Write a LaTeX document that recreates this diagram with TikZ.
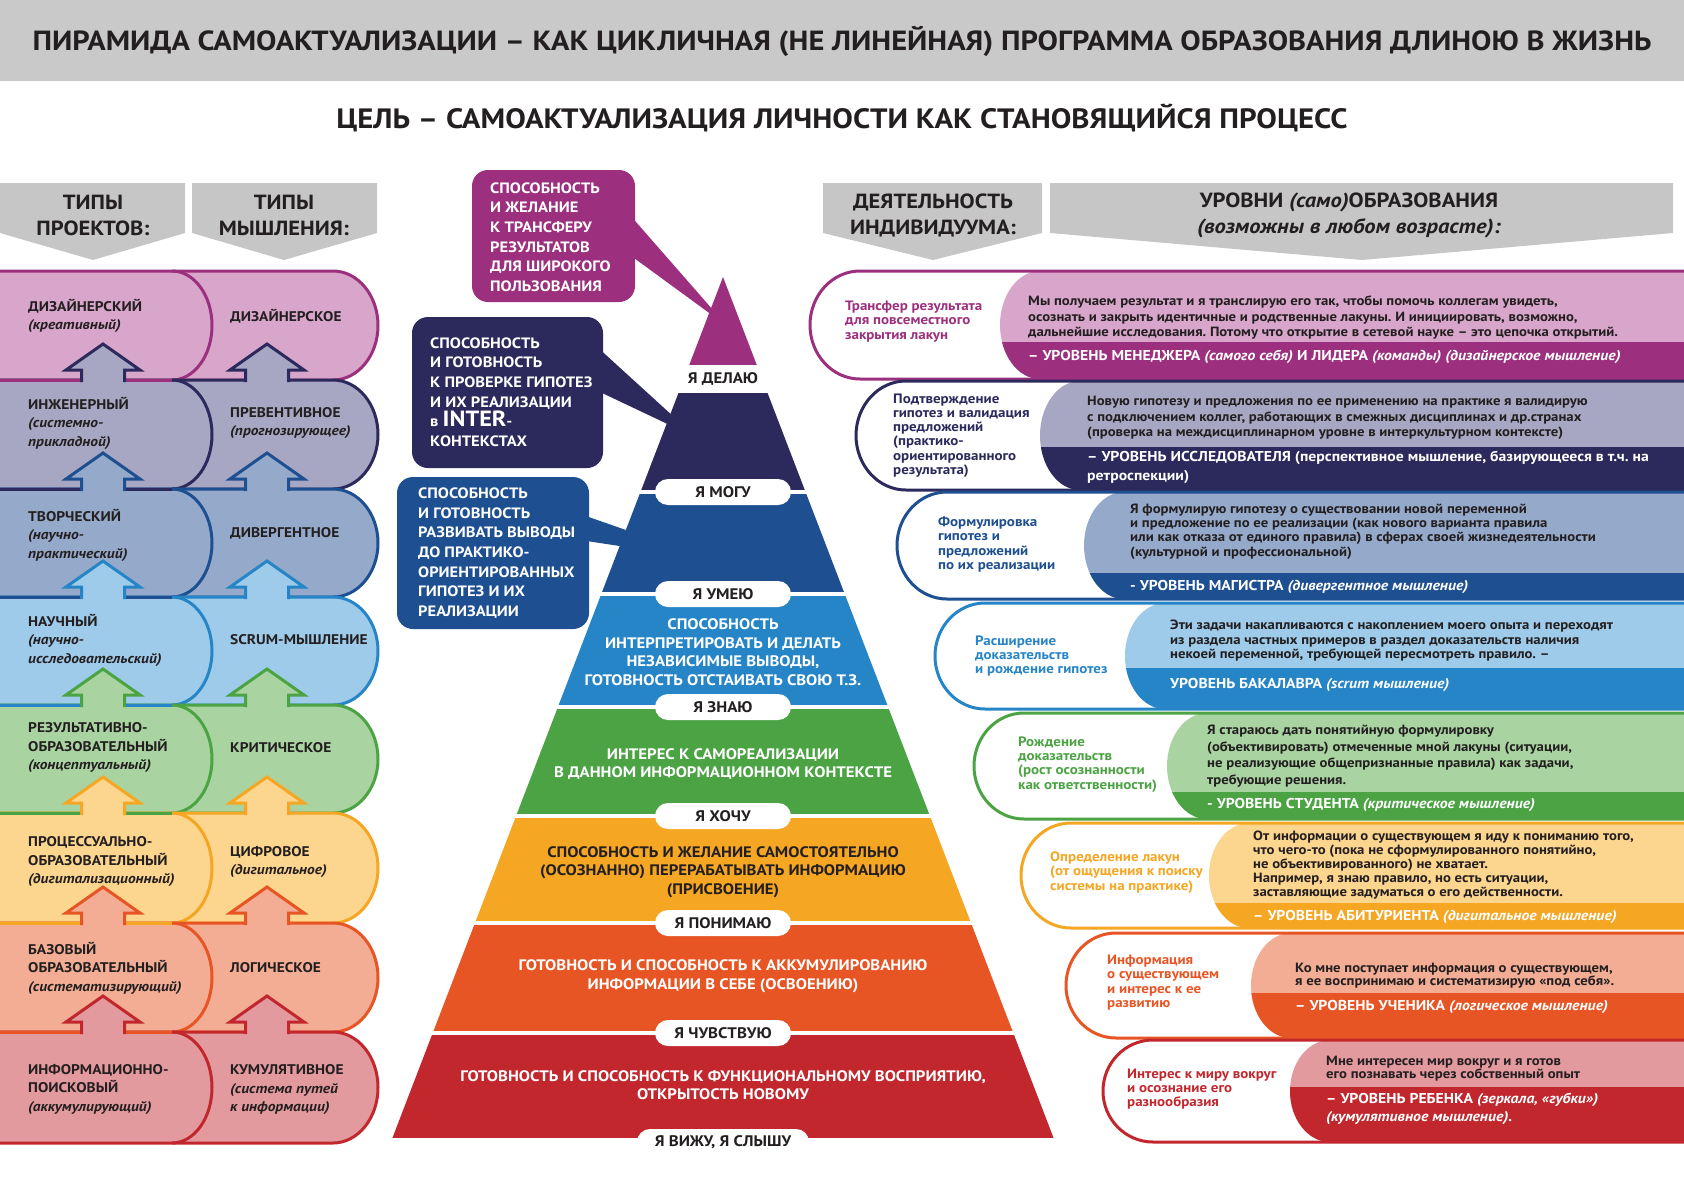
\documentclass[tikz,border=0pt]{standalone}
\usepackage{fontspec}
\setmainfont[FakeStretch=1.1]{PT Sans}
\frenchspacing
\begin{document}
\begin{tikzpicture}[x=1pt,y=-1pt,
    rowline/.style={line width=3pt},
    headtext/.style={align=center,inner sep=0pt,text=ink,font=\fontsize{20.5}{26}\selectfont\bfseries},
    typetext/.style={anchor=west,align=left,inner sep=0pt,text=ink,font=\fontsize{14}{18.5}\selectfont\bfseries},
    bandtext/.style={align=center,inner sep=0pt,text=white,font=\fontsize{15.2}{18.5}\selectfont\bfseries},
    stagepill/.style={fill=white,rounded corners=13pt,minimum width=136pt,minimum height=26pt,inner sep=0pt,text=ink,font=\fontsize{15.3}{18}\selectfont\bfseries},
    calltext/.style={anchor=west,align=left,inner sep=0pt,text=white,font=\fontsize{15}{19.7}\selectfont\bfseries},
    acttext/.style={anchor=west,align=left,inner sep=0pt,font=\fontsize{13.6}{14.2}\selectfont\bfseries},
    bodytext/.style={anchor=west,align=left,inner sep=0pt,text=ink,font=\fontsize{13.4}{15.5}\selectfont\bfseries},
    leveltext/.style={anchor=west,align=left,inner sep=0pt,text=white,font=\fontsize{14.3}{18.5}\selectfont\bfseries}]
    \useasboundingbox (0,0) rectangle (1684,1191);

    % Changing colors
    \definecolor{ink}{HTML}{231F20}%
    \definecolor{bargray}{HTML}{C9C9C9}%
    \definecolor{hdrgray}{HTML}{C6C6C6}%
    \definecolor{c1}{HTML}{9C2F7E}\definecolor{l1}{HTML}{D8A6CA}%
    \definecolor{c2}{HTML}{2C2A5C}\definecolor{l2}{HTML}{A8A7C3}%
    \definecolor{c3}{HTML}{1D4F91}\definecolor{l3}{HTML}{95AACB}%
    \definecolor{c4}{HTML}{2685C6}\definecolor{l4}{HTML}{9ECBEA}%
    \definecolor{c5}{HTML}{4BA343}\definecolor{l5}{HTML}{A9D4A1}%
    \definecolor{c6}{HTML}{F5A623}\definecolor{l6}{HTML}{FCD58F}%
    \definecolor{c7}{HTML}{E85524}\definecolor{l7}{HTML}{F2AD94}%
    \definecolor{c8}{HTML}{C1272D}\definecolor{l8}{HTML}{E39A9E}%

    % Drawing title bar
    \fill[bargray] (0,0) rectangle (1684,81);%
    \node[inner sep=0pt,text=ink,font=\fontsize{27.7}{32}\selectfont\bfseries] (title) at (842,41) {ПИРАМИДА САМОАКТУАЛИЗАЦИИ – КАК ЦИКЛИЧНАЯ (НЕ ЛИНЕЙНАЯ) ПРОГРАММА ОБРАЗОВАНИЯ ДЛИНОЮ В ЖИЗНЬ};%
    \node[inner sep=0pt,text=ink,font=\fontsize{28}{32}\selectfont\bfseries] (goal) at (842,118) {ЦЕЛЬ – САМОАКТУАЛИЗАЦИЯ ЛИЧНОСТИ КАК СТАНОВЯЩИЙСЯ ПРОЦЕСС};%

    % Drawing column headers
    \fill[hdrgray] (0,183) -- (185,183) -- (185,233) -- (93,260) -- (0,233) -- cycle;%
    \fill[hdrgray] (192,183) -- (377,183) -- (377,233) -- (284,260) -- (192,233) -- cycle;%
    \fill[hdrgray] (823,183) -- (1042,183) -- (1042,233) -- (933,260) -- (823,233) -- cycle;%
    \fill[hdrgray] (1050,183) -- (1673,183) -- (1673,233) -- (1362,260) -- (1050,233) -- cycle;%
    \node[headtext] (projhead) at (93,215) {ТИПЫ\\ПРОЕКТОВ:};%
    \node[headtext] (thinkhead) at (284,215) {ТИПЫ\\МЫШЛЕНИЯ:};%
    \node[headtext] (acthead) at (933,215) {ДЕЯТЕЛЬНОСТЬ\\ИНДИВИДУУМА:};%
    \node[headtext] (levhead) at (1349,215) {УРОВНИ \textit{(само)}ОБРАЗОВАНИЯ\\\textit{(возможны в любом возрасте):}};%

    % Drawing left rows
    \filldraw[fill=l1,draw=c1,rowline] (-5,271) -- (333,271) arc[start angle=90,end angle=-90,x radius=45pt,y radius=54.5pt] -- (-5,380) -- cycle;%
    \draw[c1,rowline] (172,271) arc[start angle=90,end angle=-90,x radius=40pt,y radius=54.5pt];%
    \filldraw[fill=l2,draw=c2,rowline] (-5,380) -- (333,380) arc[start angle=90,end angle=-90,x radius=45pt,y radius=54.5pt] -- (-5,489) -- cycle;%
    \draw[c2,rowline] (172,380) arc[start angle=90,end angle=-90,x radius=40pt,y radius=54.5pt];%
    \filldraw[fill=l3,draw=c3,rowline] (-5,489) -- (333,489) arc[start angle=90,end angle=-90,x radius=45pt,y radius=54pt] -- (-5,597) -- cycle;%
    \draw[c3,rowline] (172,489) arc[start angle=90,end angle=-90,x radius=40pt,y radius=54pt];%
    \filldraw[fill=l4,draw=c4,rowline] (-5,597) -- (333,597) arc[start angle=90,end angle=-90,x radius=45pt,y radius=54pt] -- (-5,705) -- cycle;%
    \draw[c4,rowline] (172,597) arc[start angle=90,end angle=-90,x radius=40pt,y radius=54pt];%
    \filldraw[fill=l5,draw=c5,rowline] (-5,705) -- (333,705) arc[start angle=90,end angle=-90,x radius=45pt,y radius=54pt] -- (-5,813) -- cycle;%
    \draw[c5,rowline] (172,705) arc[start angle=90,end angle=-90,x radius=40pt,y radius=54pt];%
    \filldraw[fill=l6,draw=c6,rowline] (-5,813) -- (333,813) arc[start angle=90,end angle=-90,x radius=45pt,y radius=55pt] -- (-5,923) -- cycle;%
    \draw[c6,rowline] (172,813) arc[start angle=90,end angle=-90,x radius=40pt,y radius=55pt];%
    \filldraw[fill=l7,draw=c7,rowline] (-5,923) -- (333,923) arc[start angle=90,end angle=-90,x radius=45pt,y radius=54.5pt] -- (-5,1032) -- cycle;%
    \draw[c7,rowline] (172,923) arc[start angle=90,end angle=-90,x radius=40pt,y radius=54.5pt];%
    \filldraw[fill=l8,draw=c8,rowline] (-5,1032) -- (333,1032) arc[start angle=90,end angle=-90,x radius=45pt,y radius=55.5pt] -- (-5,1143) -- cycle;%
    \draw[c8,rowline] (172,1032) arc[start angle=90,end angle=-90,x radius=40pt,y radius=55.5pt];%

    % Lower edges of the left shapes
    \draw[c1,rowline] (-5,380) -- (172,380);%
    \draw[c2,rowline] (-5,489) -- (172,489);%
    \draw[c3,rowline] (-5,597) -- (172,597);%
    \draw[c4,rowline] (-5,705) -- (172,705);%
    \draw[c5,rowline] (-5,813) -- (172,813);%
    \draw[c6,rowline] (-5,923) -- (172,923);%
    \draw[c7,rowline] (-5,1032) -- (172,1032);%

    % Drawing arrows between rows
    \filldraw[fill=l2,draw=c2,rowline] (81.5,382) -- ++(0,-12) -- ++(-15.5,0) -- ++(37,-26) -- ++(37,26) -- ++(-15.5,0) -- ++(0,12);%
    \filldraw[fill=l2,draw=c2,rowline] (245.5,382) -- ++(0,-12) -- ++(-15.5,0) -- ++(37,-26) -- ++(37,26) -- ++(-15.5,0) -- ++(0,12);%
    \filldraw[fill=l3,draw=c3,rowline] (81.5,491) -- ++(0,-12) -- ++(-15.5,0) -- ++(37,-26) -- ++(37,26) -- ++(-15.5,0) -- ++(0,12);%
    \filldraw[fill=l3,draw=c3,rowline] (245.5,491) -- ++(0,-12) -- ++(-15.5,0) -- ++(37,-26) -- ++(37,26) -- ++(-15.5,0) -- ++(0,12);%
    \filldraw[fill=l4,draw=c4,rowline] (81.5,599) -- ++(0,-12) -- ++(-15.5,0) -- ++(37,-26) -- ++(37,26) -- ++(-15.5,0) -- ++(0,12);%
    \filldraw[fill=l4,draw=c4,rowline] (245.5,599) -- ++(0,-12) -- ++(-15.5,0) -- ++(37,-26) -- ++(37,26) -- ++(-15.5,0) -- ++(0,12);%
    \filldraw[fill=l5,draw=c5,rowline] (81.5,707) -- ++(0,-12) -- ++(-15.5,0) -- ++(37,-26) -- ++(37,26) -- ++(-15.5,0) -- ++(0,12);%
    \filldraw[fill=l5,draw=c5,rowline] (245.5,707) -- ++(0,-12) -- ++(-15.5,0) -- ++(37,-26) -- ++(37,26) -- ++(-15.5,0) -- ++(0,12);%
    \filldraw[fill=l6,draw=c6,rowline] (81.5,815) -- ++(0,-12) -- ++(-15.5,0) -- ++(37,-26) -- ++(37,26) -- ++(-15.5,0) -- ++(0,12);%
    \filldraw[fill=l6,draw=c6,rowline] (245.5,815) -- ++(0,-12) -- ++(-15.5,0) -- ++(37,-26) -- ++(37,26) -- ++(-15.5,0) -- ++(0,12);%
    \filldraw[fill=l7,draw=c7,rowline] (81.5,925) -- ++(0,-12) -- ++(-15.5,0) -- ++(37,-26) -- ++(37,26) -- ++(-15.5,0) -- ++(0,12);%
    \filldraw[fill=l7,draw=c7,rowline] (245.5,925) -- ++(0,-12) -- ++(-15.5,0) -- ++(37,-26) -- ++(37,26) -- ++(-15.5,0) -- ++(0,12);%
    \filldraw[fill=l8,draw=c8,rowline] (81.5,1034) -- ++(0,-12) -- ++(-15.5,0) -- ++(37,-26) -- ++(37,26) -- ++(-15.5,0) -- ++(0,12);%
    \filldraw[fill=l8,draw=c8,rowline] (245.5,1034) -- ++(0,-12) -- ++(-15.5,0) -- ++(37,-26) -- ++(37,26) -- ++(-15.5,0) -- ++(0,12);%

    % Marking project and thinking types
    \node[typetext] (tp1) at (28,316) {ДИЗАЙНЕРСКИЙ\\\textit{(креативный)}};%
    \node[typetext] (tt1) at (230,316) {ДИЗАЙНЕРСКОЕ};%
    \node[typetext] (tp2) at (28,423) {ИНЖЕНЕРНЫЙ\\\textit{(системно-}\\\textit{прикладной)}};%
    \node[typetext] (tt2) at (230,423) {ПРЕВЕНТИВНОЕ\\\textit{(прогнозирующее)}};%
    \node[typetext] (tp3) at (28,535) {ТВОРЧЕСКИЙ\\\textit{(научно-}\\\textit{практический)}};%
    \node[typetext] (tt3) at (230,533) {ДИВЕРГЕНТНОЕ};%
    \node[typetext] (tp4) at (28,640) {НАУЧНЫЙ\\\textit{(научно-}\\\textit{исследовательский)}};%
    \node[typetext] (tt4) at (230,640) {SCRUM-МЫШЛЕНИЕ};%
    \node[typetext] (tp5) at (28,748) {РЕЗУЛЬТАТИВНО-\\ОБРАЗОВАТЕЛЬНЫЙ\\\textit{(концептуальный)}};%
    \node[typetext] (tt5) at (230,748) {КРИТИЧЕСКОЕ};%
    \node[typetext] (tp6) at (28,862) {ПРОЦЕССУАЛЬНО-\\ОБРАЗОВАТЕЛЬНЫЙ\\\textit{(дигитализационный)}};%
    \node[typetext] (tt6) at (230,862) {ЦИФРОВОЕ\\\textit{(дигитальное)}};%
    \node[typetext] (tp7) at (28,968) {БАЗОВЫЙ\\ОБРАЗОВАТЕЛЬНЫЙ\\\textit{(систематизирующий)}};%
    \node[typetext] (tt7) at (230,968) {ЛОГИЧЕСКОЕ};%
    \node[typetext] (tp8) at (28,1089) {ИНФОРМАЦИОННО-\\ПОИСКОВЫЙ\\\textit{(аккумулирующий)}};%
    \node[typetext] (tt8) at (230,1090) {КУМУЛЯТИВНОЕ\\\textit{(система путей}\\\textit{к информации)}};%

    % Drawing pyramid bands
    \begin{scope}
        \clip (723,277) -- (392.4,1138) -- (1053.6,1138) -- cycle;%
        \fill[c1] (380,270) rectangle (1070,365);%
        \fill[c2] (380,393) rectangle (1070,490);%
        \fill[c3] (380,494) rectangle (1070,592);%
        \fill[c4] (380,596) rectangle (1070,705);%
        \fill[c5] (380,709) rectangle (1070,814);%
        \fill[c6] (380,818) rectangle (1070,921);%
        \fill[c7] (380,925) rectangle (1070,1031);%
        \fill[c8] (380,1035) rectangle (1070,1138);%
    \end{scope}

    % Drawing callouts
    \fill[c1,rounded corners=16pt] (472,170) rectangle (635,302);%
    \fill[c1] (622,206) -- (727,326) -- (634,258) -- cycle;%
    \node[calltext] (call1) at (490,237) {СПОСОБНОСТЬ\\И ЖЕЛАНИЕ\\К ТРАНСФЕРУ\\РЕЗУЛЬТАТОВ\\ДЛЯ ШИРОКОГО\\ПОЛЬЗОВАНИЯ};%
    \fill[c2,rounded corners=16pt] (412,317) rectangle (603,468);%
    \fill[c2] (595,345) -- (697,438) -- (600,392) -- cycle;%
    \node[calltext] (call2) at (430,392) {СПОСОБНОСТЬ\\И ГОТОВНОСТЬ\\К ПРОВЕРКЕ ГИПОТЕЗ\\И ИХ РЕАЛИЗАЦИИ\\в {\fontsize{22}{20}\selectfont INTER}-\\КОНТЕКСТАХ};%
    \fill[c3,rounded corners=16pt] (397,477) rectangle (589,629);%
    \fill[c3] (580,514) -- (712,560) -- (580,540) -- cycle;%
    \node[calltext] (call3) at (418,553) {СПОСОБНОСТЬ\\И ГОТОВНОСТЬ\\РАЗВИВАТЬ ВЫВОДЫ\\ДО ПРАКТИКО-\\ОРИЕНТИРОВАННЫХ\\ГИПОТЕЗ И ИХ\\РЕАЛИЗАЦИИ};%

    % Marking band texts
    \node[bandtext] (band4) at (723,652) {СПОСОБНОСТЬ\\ИНТЕРПРЕТИРОВАТЬ И ДЕЛАТЬ\\НЕЗАВИСИМЫЕ ВЫВОДЫ,\\ГОТОВНОСТЬ ОТСТАИВАТЬ СВОЮ Т.З.};%
    \node[bandtext] (band5) at (723,764) {ИНТЕРЕС К САМОРЕАЛИЗАЦИИ\\В ДАННОМ ИНФОРМАЦИОННОМ КОНТЕКСТЕ};%
    \node[bandtext,text=ink] (band6) at (723,872) {СПОСОБНОСТЬ И ЖЕЛАНИЕ САМОСТОЯТЕЛЬНО\\(ОСОЗНАННО) ПЕРЕРАБАТЫВАТЬ ИНФОРМАЦИЮ\\(ПРИСВОЕНИЕ)};%
    \node[bandtext] (band7) at (723,976) {ГОТОВНОСТЬ И СПОСОБНОСТЬ К АККУМУЛИРОВАНИЮ\\ИНФОРМАЦИИ В СЕБЕ (ОСВОЕНИЮ)};%
    \node[bandtext] (band8) at (723,1085) {ГОТОВНОСТЬ И СПОСОБНОСТЬ К ФУНКЦИОНАЛЬНОМУ ВОСПРИЯТИЮ,\\ОТКРЫТОСТЬ НОВОМУ};%

    % Marking stages
    \node[stagepill] (stage1) at (723,379) {Я ДЕЛАЮ};%
    \node[stagepill] (stage2) at (723,492) {Я МОГУ};%
    \node[stagepill] (stage3) at (723,594) {Я УМЕЮ};%
    \node[stagepill] (stage4) at (723,707) {Я ЗНАЮ};%
    \node[stagepill] (stage5) at (723,816) {Я ХОЧУ};%
    \node[stagepill] (stage6) at (723,923) {Я ПОНИМАЮ};%
    \node[stagepill] (stage7) at (723,1033) {Я ЧУВСТВУЮ};%
    \node[stagepill,minimum width=172pt] (stage8) at (723,1142) {Я ВИЖУ, Я СЛЫШУ};%

    % Drawing activity row 1
    \fill[white] (1690,271) -- (860,271) arc[start angle=90,end angle=270,x radius=50pt,y radius=54pt] -- (1690,379) -- cycle;%
    \begin{scope}
        \clip (1690,271) -- (1040,271) arc[start angle=90,end angle=270,x radius=40pt,y radius=54pt] -- (1690,379) -- cycle;%
        \fill[l1] (990,271) rectangle (1690,379);%
        \fill[c1] (990,342) rectangle (1690,379);%
    \end{scope}
    \draw[c1,rowline] (1690,271) -- (860,271) arc[start angle=90,end angle=270,x radius=50pt,y radius=54pt] -- (1690,379);%
    \node[acttext,text=c1] (act1) at (845,321.5) {Трансфер результата\\для повсеместного\\закрытия лакун};%
    \node[bodytext] (body1) at (1028,317.5) {Мы получаем результат и я транслирую его так, чтобы помочь коллегам увидеть,\\осознать и закрыть идентичные и родственные лакуны. И инициировать, возможно,\\дальнейшие исследования. Потому что открытие в сетевой науке – это цепочка открытий.};%
    \node[leveltext] (lev1) at (1028,357) {– УРОВЕНЬ МЕНЕДЖЕРА \textit{(самого себя)} И ЛИДЕРА \textit{(команды) (дизайнерское мышление)}};%

    % Drawing activity row 2
    \fill[white] (1690,381) -- (906,381) arc[start angle=90,end angle=270,x radius=50pt,y radius=54.5pt] -- (1690,490) -- cycle;%
    \begin{scope}
        \clip (1690,381) -- (1080,381) arc[start angle=90,end angle=270,x radius=40pt,y radius=54.5pt] -- (1690,490) -- cycle;%
        \fill[l2] (1030,381) rectangle (1690,490);%
        \fill[c2] (1030,447) rectangle (1690,490);%
    \end{scope}
    \draw[c2,rowline] (1690,381) -- (906,381) arc[start angle=90,end angle=270,x radius=50pt,y radius=54.5pt] -- (1690,490);%
    \node[acttext,text=c2] (act2) at (893,435.5) {Подтверждение\\гипотез и валидация\\предложений\\(практико-\\ориентированного\\результата)};%
    \node[bodytext] (body2) at (1087,418) {Новую гипотезу и предложения по ее применению на практике я валидирую\\с подключением коллег, работающих в смежных дисциплинах и др.странах\\(проверка на междисциплинарном уровне в интеркультурном контексте)};%
    \node[leveltext] (lev2) at (1087,467.5) {– УРОВЕНЬ ИССЛЕДОВАТЕЛЯ (перспективное мышление, базирующееся в т.ч. на\\ретроспекции)};%

    % Drawing activity row 3
    \fill[white] (1690,492) -- (947,492) arc[start angle=90,end angle=270,x radius=50pt,y radius=53.5pt] -- (1690,599) -- cycle;%
    \begin{scope}
        \clip (1690,492) -- (1124,492) arc[start angle=90,end angle=270,x radius=40pt,y radius=53.5pt] -- (1690,599) -- cycle;%
        \fill[l3] (1070,492) rectangle (1690,599);%
        \fill[c3] (1070,573) rectangle (1690,599);%
    \end{scope}
    \draw[c3,rowline] (1690,492) -- (947,492) arc[start angle=90,end angle=270,x radius=50pt,y radius=53.5pt] -- (1690,599);%
    \node[acttext,text=c3] (act3) at (938,544.5) {Формулировка\\гипотез и\\предложений\\по их реализации};%
    \node[bodytext,font=\fontsize{13.4}{14.3}\selectfont\bfseries] (body3) at (1130,531.5) {Я формулирую гипотезу о существовании новой переменной\\и предложение по ее реализации (как нового варианта правила\\или как отказа от единого правила) в сферах своей жизнедеятельности\\(культурной и профессиональной)};%
    \node[leveltext] (lev3) at (1130,587) {- УРОВЕНЬ МАГИСТРА \textit{(дивергентное мышление)}};%

    % Drawing activity row 4
    \fill[white] (1690,603) -- (985,603) arc[start angle=90,end angle=270,x radius=50pt,y radius=53pt] -- (1690,709) -- cycle;%
    \begin{scope}
        \clip (1690,603) -- (1165,603) arc[start angle=90,end angle=270,x radius=40pt,y radius=53pt] -- (1690,709) -- cycle;%
        \fill[l4] (1110,603) rectangle (1690,709);%
        \fill[c4] (1110,668) rectangle (1690,709);%
    \end{scope}
    \draw[c4,rowline] (1690,603) -- (985,603) arc[start angle=90,end angle=270,x radius=50pt,y radius=53pt] -- (1690,709);%
    \node[acttext,text=c4] (act4) at (975,656) {Расширение\\доказательств\\и рождение гипотез};%
    \node[bodytext,font=\fontsize{13.4}{14.5}\selectfont\bfseries] (body4) at (1170,641) {Эти задачи накапливаются с накоплением моего опыта и переходят\\из раздела частных примеров в раздел доказательств наличия\\некоей переменной, требующей пересмотреть правило. –};%
    \node[leveltext] (lev4) at (1170,685) {УРОВЕНЬ БАКАЛАВРА \textit{(scrum мышление)}};%

    % Drawing activity row 5
    \fill[white] (1690,713) -- (1024,713) arc[start angle=90,end angle=270,x radius=50pt,y radius=53pt] -- (1690,819) -- cycle;%
    \begin{scope}
        \clip (1690,713) -- (1207,713) arc[start angle=90,end angle=270,x radius=40pt,y radius=53pt] -- (1690,819) -- cycle;%
        \fill[l5] (1150,713) rectangle (1690,819);%
        \fill[c5] (1150,792) rectangle (1690,819);%
    \end{scope}
    \draw[c5,rowline] (1690,713) -- (1024,713) arc[start angle=90,end angle=270,x radius=50pt,y radius=53pt] -- (1690,819);%
    \node[acttext,text=c5] (act5) at (1018,764.5) {Рождение\\доказательств\\(рост осознанности\\как ответственности)};%
    \node[bodytext,font=\fontsize{13.4}{16.5}\selectfont\bfseries] (body5) at (1207,756) {Я стараюсь дать понятийную формулировку\\(объективировать) отмеченные мной лакуны (ситуации,\\не реализующие общепризнанные правила) как задачи,\\требующие решения.};%
    \node[leveltext] (lev5) at (1207,805) {- УРОВЕНЬ СТУДЕНТА \textit{(критическое мышление)}};%

    % Drawing activity row 6
    \fill[white] (1690,823) -- (1071,823) arc[start angle=90,end angle=270,x radius=50pt,y radius=52.5pt] -- (1690,928) -- cycle;%
    \begin{scope}
        \clip (1690,823) -- (1249,823) arc[start angle=90,end angle=270,x radius=40pt,y radius=52.5pt] -- (1690,928) -- cycle;%
        \fill[l6] (1190,823) rectangle (1690,928);%
        \fill[c6] (1190,903) rectangle (1690,928);%
    \end{scope}
    \draw[c6,rowline] (1690,823) -- (1071,823) arc[start angle=90,end angle=270,x radius=50pt,y radius=52.5pt] -- (1690,928);%
    \node[acttext,text=c6] (act6) at (1050,872.5) {Определение лакун\\(от ощущения к поиску\\системы на практике)};%
    \node[bodytext,font=\fontsize{13.4}{14}\selectfont\bfseries] (body6) at (1253,865) {От информации о существующем я иду к пониманию того,\\что чего-то (пока не сформулированного понятийно,\\не объективированного) не хватает.\\Например, я знаю правило, но есть ситуации,\\заставляющие задуматься о его действенности.};%
    \node[leveltext] (lev6) at (1253,917) {– УРОВЕНЬ АБИТУРИЕНТА \textit{(дигитальное мышление)}};%

    % Drawing activity row 7
    \fill[white] (1690,933) -- (1116,933) arc[start angle=90,end angle=270,x radius=50pt,y radius=52.5pt] -- (1690,1038) -- cycle;%
    \begin{scope}
        \clip (1690,933) -- (1291,933) arc[start angle=90,end angle=270,x radius=40pt,y radius=52.5pt] -- (1690,1038) -- cycle;%
        \fill[l7] (1230,933) rectangle (1690,1038);%
        \fill[c7] (1230,993) rectangle (1690,1038);%
    \end{scope}
    \draw[c7,rowline] (1690,933) -- (1116,933) arc[start angle=90,end angle=270,x radius=50pt,y radius=52.5pt] -- (1690,1038);%
    \node[acttext,text=c7] (act7) at (1107,982.5) {Информация\\о существующем\\и интерес к ее\\развитию};%
    \node[bodytext,font=\fontsize{13.4}{13.5}\selectfont\bfseries] (body7) at (1295,975.5) {Ко мне поступает информация о существующем,\\я ее воспринимаю и систематизирую «под себя».};%
    \node[leveltext] (lev7) at (1295,1007) {– УРОВЕНЬ УЧЕНИКА \textit{(логическое мышление)}};%

    % Drawing activity row 8
    \fill[white] (1690,1040) -- (1153,1040) arc[start angle=90,end angle=270,x radius=50pt,y radius=51pt] -- (1690,1142) -- cycle;%
    \begin{scope}
        \clip (1690,1040) -- (1330,1040) arc[start angle=90,end angle=270,x radius=40pt,y radius=51pt] -- (1690,1142) -- cycle;%
        \fill[l8] (1270,1040) rectangle (1690,1142);%
        \fill[c8] (1270,1087) rectangle (1690,1142);%
    \end{scope}
    \draw[c8,rowline] (1690,1040) -- (1153,1040) arc[start angle=90,end angle=270,x radius=50pt,y radius=51pt] -- (1690,1142);%
    \node[acttext,text=c8] (act8) at (1127,1089) {Интерес к миру вокруг\\и осознание его\\разнообразия};%
    \node[bodytext,font=\fontsize{13.4}{13.5}\selectfont\bfseries] (body8) at (1326,1068.5) {Мне интересен мир вокруг и я готов\\его познавать через собственный опыт};%
    \node[leveltext] (lev8) at (1326,1109) {– УРОВЕНЬ РЕБЕНКА \textit{(зеркала, «губки»)}\\\textit{(кумулятивное мышление).}};%
\end{tikzpicture}
\end{document}
